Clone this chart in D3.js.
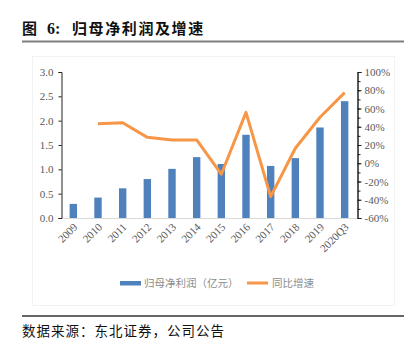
<!DOCTYPE html>
<html lang="zh">
<head>
<meta charset="UTF-8">
<script src="https://d3js.org/d3.v7.min.js"></script>
<style>
  body { margin: 0; background: #fff; }
  svg { display: block; }
</style>
</head>
<body>
<svg id="chart"></svg>
<script>
const years = ["2009","2010","2011","2012","2013","2014","2015","2016","2017","2018","2019","2020Q3"];
const profit = [0.29, 0.42, 0.61, 0.80, 1.01, 1.25, 1.11, 1.71, 1.07, 1.23, 1.86, 2.40];
const growth = [null, 43.3, 44.4, 28.4, 25.5, 25.5, -12.0, 55.8, -36.6, 16.4, 50.4, 77.4];
const leftTicks = [0, 0.5, 1.0, 1.5, 2.0, 2.5, 3.0];
const rightTicks = [-60, -40, -20, 0, 20, 40, 60, 80, 100];

const width = 408, height = 352;
const svg = d3.select("#chart").attr("width", width).attr("height", height);
const cjk = "'Noto Sans CJK SC', sans-serif";
const serif = "'Liberation Serif', 'DejaVu Serif', serif";

// title
const title = svg.append("text").attr("y", 34).attr("fill", "#111")
  .attr("font-family", cjk).attr("font-weight", "bold").attr("font-size", 15);
title.append("tspan").attr("x", 22).text("图");
title.append("tspan").attr("x", 47).attr("font-family", serif).attr("font-size", 16).text("6:");
title.append("tspan").attr("x", 72).attr("letter-spacing", 1.6).text("归母净利润及增速");
svg.append("line").attr("x1", 22).attr("x2", 404).attr("y1", 41.5).attr("y2", 41.5)
  .attr("stroke", "#7f7f7f").attr("stroke-width", 2);

// faint chart frame
svg.append("rect").attr("x", 32.5).attr("y", 56.5).attr("width", 362).attr("height", 249)
  .attr("fill", "none").attr("stroke", "#f2f2f2");

const pLeft = 61, pRight = 357, pTop = 72, pBottom = 218;
const xc = d3.scaleBand().domain(years).range([pLeft, pRight]);
const y = d3.scaleLinear().domain([0, 3]).range([pBottom, pTop]);
const y2 = d3.scaleLinear().domain([-60, 100]).range([pBottom, pTop]);

// bars
svg.append("g").selectAll("rect").data(years).join("rect")
  .attr("x", d => xc(d) + xc.bandwidth() / 2 - 3.7)
  .attr("width", 7.4)
  .attr("y", (d, i) => y(profit[i]))
  .attr("height", (d, i) => pBottom - y(profit[i]))
  .attr("fill", "#4f81bd");

// x baseline
svg.append("line").attr("x1", pLeft).attr("x2", pRight).attr("y1", pBottom + 0.5).attr("y2", pBottom + 0.5)
  .attr("stroke", "#d9d9d9");

// line
const line = d3.line()
  .defined(d => d[1] != null)
  .x(d => xc(d[0]) + xc.bandwidth() / 2)
  .y(d => y2(d[1]));
svg.append("path").datum(years.map((d, i) => [d, growth[i]]))
  .attr("d", line).attr("fill", "none")
  .attr("stroke", "#f79646").attr("stroke-width", 3).attr("stroke-linejoin", "round");

// left axis
const yAxis = d3.axisLeft(y).tickValues(leftTicks).tickFormat(d3.format(".1f")).tickSize(3).tickPadding(5);
const gl = svg.append("g").attr("transform", `translate(${pLeft + 0.5},0)`).call(yAxis);
gl.select(".domain").attr("stroke", "#222");
gl.selectAll(".tick line").attr("stroke", "#222");
gl.selectAll("text").attr("font-family", serif).attr("font-size", 11).attr("fill", "#595959");

// right axis
const minor = d3.range(-60, 101, 10);
svg.append("g").attr("transform", `translate(${pRight + 0.5},0)`)
  .call(d3.axisRight(y2).tickValues(minor).tickSize(3).tickFormat(""))
  .call(g => g.selectAll("line").attr("stroke", "#222"))
  .call(g => g.select(".domain").attr("stroke", "#222"));
const gr = svg.append("g").attr("transform", `translate(${pRight + 0.5},0)`)
  .call(d3.axisRight(y2).tickValues(rightTicks).tickFormat(d => d + "%").tickSize(4).tickPadding(3));
gr.select(".domain").attr("stroke", "#222");
gr.selectAll(".tick line").attr("stroke", "#222");
gr.selectAll("text").attr("font-family", serif).attr("font-size", 11).attr("fill", "#595959");

// x labels
svg.append("g").selectAll("text").data(years).join("text")
  .attr("transform", d => `translate(${xc(d) + xc.bandwidth() / 2 + 3},${pBottom + 8}) rotate(-45)`)
  .attr("text-anchor", "end").attr("dominant-baseline", "middle")
  .attr("font-family", serif).attr("font-size", 11).attr("fill", "#595959")
  .text(d => d);

// legend
svg.append("rect").attr("x", 120).attr("y", 281).attr("width", 21).attr("height", 4.5).attr("fill", "#4f81bd");
svg.append("text").attr("x", 144).attr("y", 287).attr("font-family", cjk).attr("font-size", 10.5)
  .attr("fill", "#8c8c8c").text("归母净利润（亿元）");
svg.append("line").attr("x1", 247).attr("x2", 268).attr("y1", 283).attr("y2", 283)
  .attr("stroke", "#f79646").attr("stroke-width", 3);
svg.append("text").attr("x", 272).attr("y", 287).attr("font-family", cjk).attr("font-size", 10.5)
  .attr("fill", "#8c8c8c").text("同比增速");

// source
svg.append("line").attr("x1", 22).attr("x2", 404).attr("y1", 316).attr("y2", 316)
  .attr("stroke", "#333").attr("stroke-width", 1.5);
svg.append("text").attr("x", 22).attr("y", 336).attr("font-family", cjk).attr("font-size", 13.5)
  .attr("letter-spacing", 1).attr("fill", "#111").text("数据来源：东北证券，公司公告");
</script>
</body>
</html>
